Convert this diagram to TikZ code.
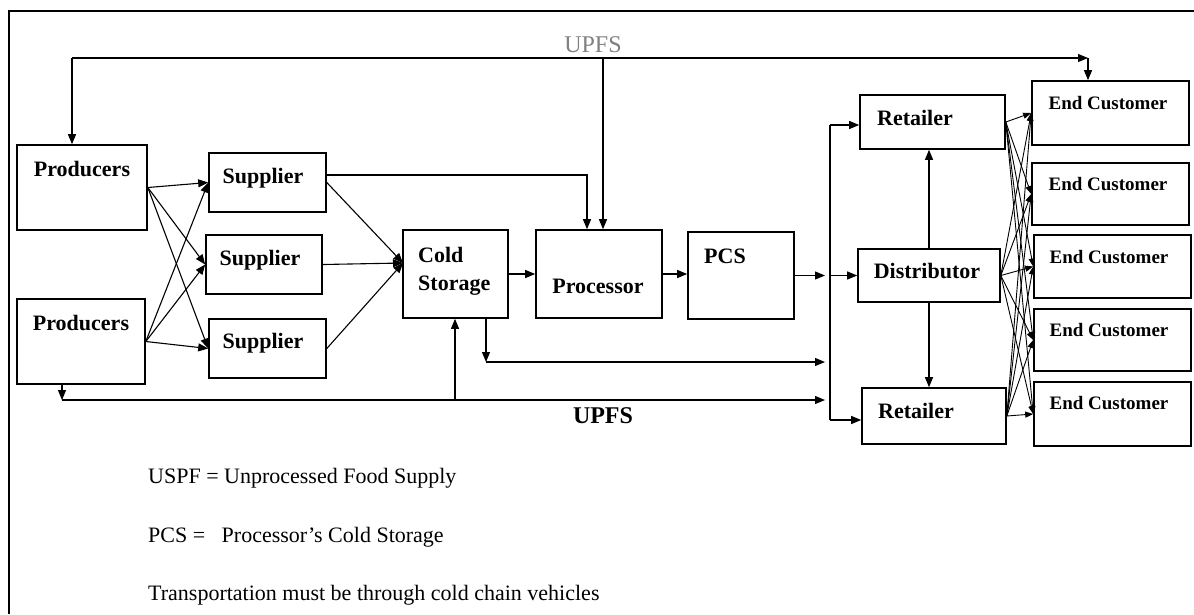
\documentclass[tikz,border=0pt]{standalone}
\usepackage{fontspec}
\setmainfont{Liberation Serif}
\usetikzlibrary{arrows.meta}
\begin{document}
\begin{tikzpicture}[x=1pt,y=-1pt,
  box/.style={draw=black, line width=1.6pt, inner sep=0pt},
  lbl/.style={inner sep=0pt, font=\fontsize{22}{30}\selectfont\bfseries},
  eclbl/.style={inner sep=0pt, font=\fontsize{19}{22}\selectfont\bfseries},
  note/.style={inner sep=0pt, anchor=base west, font=\fontsize{22}{26}\selectfont},
  link/.style={line width=1.1pt, -{Triangle[length=10pt,width=8pt]}},
  cross/.style={line width=0.9pt, -{Triangle[length=8pt,width=6pt]}}]
\useasboundingbox (0,0) rectangle (1194,614);
\draw [line width=2pt] (9,614) -- (9,11) -- (1194,11);
% boxes
\node [box, minimum width=130, minimum height=85] (prodA) at (82,187.5) {};
\node [box, minimum width=128, minimum height=85] (prodB) at (81,341.5) {};
\node [box, minimum width=117, minimum height=59] (supA) at (267.5,182.5) {};
\node [box, minimum width=116, minimum height=59] (supB) at (264,264.5) {};
\node [box, minimum width=117, minimum height=59] (supC) at (267.5,348.5) {};
\node [box, minimum width=105, minimum height=88] (cold) at (455.5,274) {};
\node [box, minimum width=126, minimum height=88] (proc) at (599,274) {};
\node [box, minimum width=106, minimum height=87] (pcs) at (741,275.5) {};
\node [box, minimum width=145, minimum height=54] (retA) at (932.5,122) {};
\node [box, minimum width=142, minimum height=53] (dist) at (929,275.5) {};
\node [box, minimum width=144, minimum height=56] (retB) at (934,416) {};
\node [box, minimum width=157, minimum height=64] (ecA) at (1110.5,113) {};
\node [box, minimum width=157, minimum height=62] (ecB) at (1110.5,194) {};
\node [box, minimum width=157, minimum height=63] (ecC) at (1112.5,266.5) {};
\node [box, minimum width=157, minimum height=62] (ecD) at (1112.5,340) {};
\node [box, minimum width=157, minimum height=64] (ecE) at (1112.5,414) {};
% texts in the boxes
\node [lbl, anchor=base] (prodAtxt) at (82,176) {Producers};
\node [lbl, anchor=base] (prodBtxt) at (81,330) {Producers};
\node [lbl, anchor=base] (supAtxt) at (263,183) {Supplier};
\node [lbl, anchor=base] (supBtxt) at (260,265) {Supplier};
\node [lbl, anchor=base] (supCtxt) at (263,348) {Supplier};
\node [lbl, anchor=west, align=left] (coldtxt) at (418,271) {Cold\\[-2pt]Storage};
\node [lbl, anchor=base] (proctxt) at (598,293) {Processor};
\node [lbl, anchor=base] (pcstxt) at (725,263) {PCS};
\node [lbl, anchor=base] (retAtxt) at (915,125) {Retailer};
\node [lbl, anchor=base] (disttxt) at (927,278) {Distributor};
\node [lbl, anchor=base] (retBtxt) at (916,418) {Retailer};
\node [eclbl, anchor=base] (ecAtxt) at (1108,109) {End Customer};
\node [eclbl, anchor=base] (ecBtxt) at (1108,190) {End Customer};
\node [eclbl, anchor=base] (ecCtxt) at (1109,263) {End Customer};
\node [eclbl, anchor=base] (ecDtxt) at (1109,336) {End Customer};
\node [eclbl, anchor=base] (ecEtxt) at (1109,409) {End Customer};
% turning points
\coordinate (loopL) at (72,58);
\coordinate (loopR) at (1088,58);
\coordinate (loopP) at (603,58);
\coordinate (supTurn) at (587,175);
\coordinate (coldIn) at (403,263);
\coordinate (busT) at (830,125);
\coordinate (busB) at (830,420);
\coordinate (coldTurn) at (486,362);
\coordinate (lowL) at (62,400);
\coordinate (lowUp) at (455,400);
% UPFS labels
\node [inner sep=0pt, anchor=base, text=gray, font=\fontsize{24}{26}\selectfont] (upfsTop) at (593,52) {UPFS};
\node [inner sep=0pt, anchor=base, font=\fontsize{24}{26}\selectfont\bfseries] (upfsLow) at (603,423) {UPFS};
% top loop
\draw [link] (loopL) -- (loopR);
\draw [link] (loopL) -- (loopL |- prodA.north);
\draw [link] (loopR) -- (loopR |- ecA.north);
\draw [link] (loopP) -- (loopP |- proc.north);
\draw [link] (supA.east |- supTurn) -- (supTurn) -- (supTurn |- proc.north);
% producers to suppliers
\foreach \p in {prodA,prodB}
  \foreach \s in {supA,supB,supC}
    \draw [link] (\p.east) -- (\s.west);
% suppliers to cold storage
\foreach \s in {supA,supB,supC}
  \draw [link] (\s.east) -- (coldIn);
\draw [link] (cold.east) -- (proc.west);
\draw [link] (proc.east) -- (proc.east -| pcs.west);
\draw [link, shorten >=5pt] (pcs.east) -- (pcs.east -| busT);
% bus to distribution
\draw [line width=1.1pt] (busT) -- (busB);
\draw [link] (busT) -- (busT -| retA.west);
\draw [link] (busB) -- (busB -| retB.west);
\draw [link] (dist.west -| busT) -- (dist.west);
\draw [link] (dist.north) -- (dist.north |- retA.south);
\draw [link] (dist.south) -- (dist.south |- retB.north);
% lower lines
\draw [link] (cold.south -| coldTurn) -- (coldTurn);
\draw [link, shorten >=5pt] (coldTurn) -- (coldTurn -| busT);
\draw [link] (prodB.south -| lowL) -- (lowL);
\draw [link, shorten >=5pt] (lowL) -- (lowL -| busT);
\draw [link] (lowUp) -- (lowUp |- cold.south);
% to the end customers
\foreach \r in {retA,dist,retB}
  \foreach \e in {ecA,ecB,ecC,ecD,ecE}
    \draw [cross] (\r.east) -- (\e.west);
% legend
\node [note] (noteA) at (148,483) {USPF = Unprocessed Food Supply};
\node [note] (noteB) at (148,542) {PCS =\ \ \ Processor's Cold Storage};
\node [note] (noteC) at (148,600) {Transportation must be through cold chain vehicles};
\end{tikzpicture}
\end{document}
